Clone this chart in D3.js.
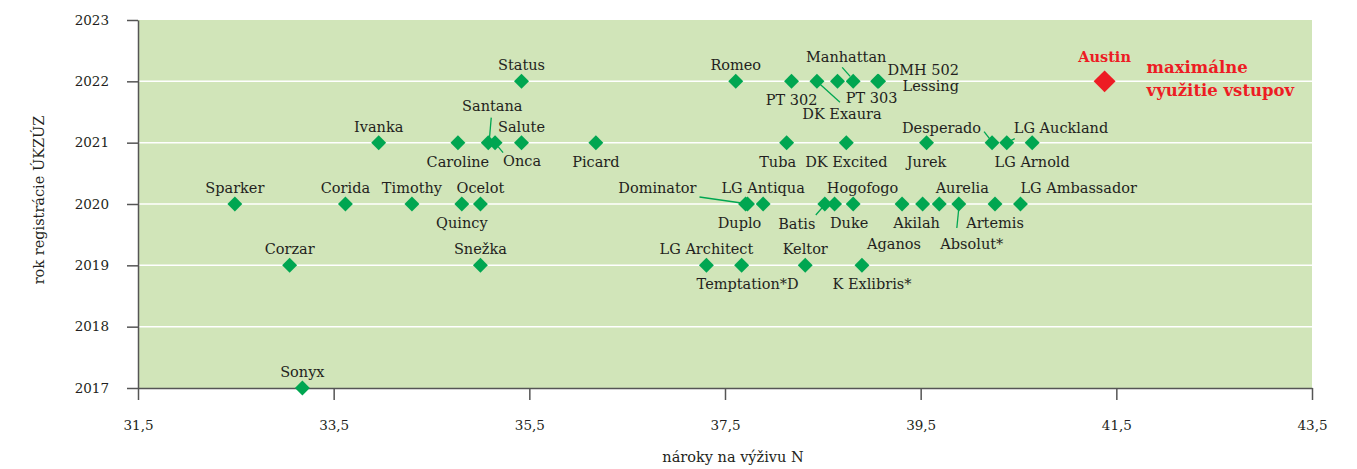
<!DOCTYPE html>
<html>
<head>
<meta charset="utf-8">
<script src="https://cdn.jsdelivr.net/npm/d3@7"></script>
<style>
  body { margin: 0; background: #fff; }
  text { font-family: "DejaVu Serif", serif; fill: #231f20; }
  .lbl { font-size: 14.5px; }
  .tick text { font-size: 13.5px; }
  .red { fill: #ed1c24; font-weight: bold; }
</style>
</head>
<body>
<script>
// Data
const varieties = ["Status", "Romeo", "PT 302", "DK Exaura", "PT 303", "Manhattan", "DMH 502", "Lessing",
  "Ivanka", "Caroline", "Santana", "Onca", "Salute", "Picard", "Tuba", "DK Excited", "Jurek", "Desperado", "LG Auckland", "LG Arnold",
  "Sparker", "Corida", "Timothy", "Quincy", "Ocelot", "Dominator", "Duplo", "LG Antiqua", "Batis", "Hogofogo", "Duke", "Aganos", "Akilah", "Aurelia", "Absolut*", "Artemis", "LG Ambassador",
  "Corzar", "Snežka", "LG Architect", "Temptation*D", "Keltor", "K Exlibris*",
  "Sonyx"]
const nitrogen = [35.42, 37.61, 38.18, 38.44, 38.65, 38.81, 39.06, 39.07,
  33.96, 34.77, 35.08, 35.15, 35.42, 36.18, 38.13, 38.74, 39.56, 40.23, 40.38, 40.64,
  32.49, 33.62, 34.30, 34.81, 35.00, 37.73, 37.71, 37.89, 38.52, 38.62, 38.81, 39.31, 39.52, 39.69, 39.89, 40.26, 40.52,
  33.05, 35.00, 37.31, 37.67, 38.32, 38.90,
  33.18]
const regYear = [2022, 2022, 2022, 2022, 2022, 2022, 2022, 2022,
  2021, 2021, 2021, 2021, 2021, 2021, 2021, 2021, 2021, 2021, 2021, 2021,
  2020, 2020, 2020, 2020, 2020, 2020, 2020, 2020, 2020, 2020, 2020, 2020, 2020, 2020, 2020, 2020, 2020,
  2019, 2019, 2019, 2019, 2019, 2019,
  2017]
const highlightName = "Austin"
const highlightN = 41.38
const highlightYear = 2022
const noteLines = ["maximálne", "využitie vstupov"]
const xTicks = [31.5, 33.5, 35.5, 37.5, 39.5, 41.5, 43.5]
const yTicks = [2017, 2018, 2019, 2020, 2021, 2022, 2023]

// label placement: [anchor, dx, dy, leader line]
const above = ["middle", 0, -11]
const below = ["middle", 0, 24]
const place = {
  "PT 302": below,
  "DK Exaura": ["middle", 25, 38, [2, 2, 23, 21]],
  "PT 303": ["middle", 34, 22],
  "Manhattan": ["middle", -7, -19, [-11, -14, -3, -5]],
  "DMH 502": ["start", 10, -6],
  "Lessing": ["start", 24, 10],
  "Caroline": below,
  "Santana": ["middle", 4, -32, [3, -25, 1, -2]],
  "Onca": ["middle", 27, 23, [3, 4, 8, 10]],
  "Picard": below,
  "Tuba": ["middle", -9, 24],
  "DK Excited": below,
  "Jurek": below,
  "Desperado": ["end", -11, -10, [-8, -11, -1, -2]],
  "LG Auckland": ["start", 7, -10, [8, -4, 2, -1]],
  "LG Arnold": below,
  "Quincy": below,
  "Dominator": ["end", -51, -11, [-48, -7, -6, -1]],
  "Duplo": ["middle", -6, 24],
  "Batis": ["middle", -28, 25, [-9, 11, -2, 3]],
  "Hogofogo": ["middle", 28, -11],
  "Duke": ["middle", -4, 24],
  "Aganos": ["middle", -8, 45],
  "Akilah": ["middle", -6, 24],
  "Aurelia": ["middle", 23, -11],
  "Absolut*": ["middle", 13, 45, [0, 4, -2, 24]],
  "Artemis": below,
  "LG Ambassador": ["start", 0, -11],
  "Temptation*D": ["middle", 6, 24],
  "K Exlibris*": ["middle", 10, 24]
}

const width = 1357, height = 469
const margin = {top: 20, right: 45, bottom: 81, left: 138}
const green = "#00a651", red = "#ed1c24"

const svg = d3.select("body").append("svg")
  .attr("width", width)
  .attr("height", height)

const x = d3.scaleLinear().domain([31.5, 43.5]).range([margin.left, width - margin.right])
const y = d3.scaleLinear().domain([2017, 2023]).range([height - margin.bottom, margin.top])

// plot background
svg.append("rect")
  .attr("x", x(31.5)).attr("y", y(2023))
  .attr("width", x(43.5) - x(31.5)).attr("height", y(2017) - y(2023))
  .attr("fill", "#d1e5b9")

// gridlines
svg.append("g").selectAll("line").data(yTicks.slice(1, -1))
  .enter().append("line")
  .attr("x1", x(31.5)).attr("x2", x(43.5))
  .attr("y1", d => y(d)).attr("y2", d => y(d))
  .attr("stroke", "#fff").attr("stroke-width", 1.5)

// axes
const fmt = d => d3.format(".1f")(d).replace(".", ",")
const xAxisG = svg.append("g")
  .attr("transform", `translate(0,${y(2017)})`)
  .call(d3.axisBottom(x).tickValues(xTicks).tickFormat(fmt).tickSize(12).tickSizeOuter(0).tickPadding(20))
const yAxisG = svg.append("g")
  .attr("transform", `translate(${x(31.5)},0)`)
  .call(d3.axisLeft(y).tickValues(yTicks).tickFormat(d3.format("d")).tickSize(11).tickSizeOuter(0).tickPadding(18))

svg.selectAll(".domain, .tick line").attr("stroke", "#555").attr("stroke-width", 1.5)
svg.selectAll(".tick text").attr("fill", "#231f20")

// axis titles
svg.append("text")
  .attr("class", "lbl")
  .attr("x", (x(31.5) + x(43.5)) / 2 + 8)
  .attr("y", 462)
  .attr("text-anchor", "middle")
  .text("nároky na výživu N")

svg.append("text")
  .attr("class", "lbl")
  .attr("transform", `translate(44,${(y(2017) + y(2023)) / 2 - 4}) rotate(-90)`)
  .attr("text-anchor", "middle")
  .text("rok registrácie ÚKZÚZ")

// points
const data = varieties.map((name, i) => ({name, n: nitrogen[i], year: regYear[i]}))
const diamond = d3.symbol().type(d3.symbolSquare)

const pts = svg.append("g")

// leader lines
pts.selectAll("line").data(data.filter(d => place[d.name] && place[d.name][3]))
  .enter().append("line")
  .attr("x1", d => x(d.n) + place[d.name][3][0])
  .attr("y1", d => y(d.year) + place[d.name][3][1])
  .attr("x2", d => x(d.n) + place[d.name][3][2])
  .attr("y2", d => y(d.year) + place[d.name][3][3])
  .attr("stroke", green).attr("stroke-width", 1.3)

pts.selectAll("path").data(data)
  .enter().append("path")
  .attr("d", diamond.size(112))
  .attr("transform", d => `translate(${x(d.n)},${y(d.year)}) rotate(45)`)
  .attr("fill", green)

pts.selectAll("text").data(data)
  .enter().append("text")
  .attr("class", "lbl")
  .attr("text-anchor", d => (place[d.name] || above)[0])
  .attr("x", d => x(d.n) + (place[d.name] || above)[1])
  .attr("y", d => y(d.year) + (place[d.name] || above)[2])
  .text(d => d.name)

// highlighted variety
svg.append("path")
  .attr("d", d3.symbol().type(d3.symbolSquare).size(240)())
  .attr("transform", `translate(${x(highlightN)},${y(highlightYear)}) rotate(45)`)
  .attr("fill", red)

svg.append("text")
  .attr("class", "red")
  .attr("x", x(highlightN))
  .attr("y", y(highlightYear) - 19)
  .attr("text-anchor", "middle")
  .style("font-size", "14.5px")
  .text(highlightName)

svg.append("text")
  .attr("class", "red")
  .style("font-size", "16.5px")
  .selectAll("tspan").data(noteLines)
  .enter().append("tspan")
  .attr("x", x(highlightN) + 42)
  .attr("y", (d, i) => y(highlightYear) - 8 + i * 23)
  .text(d => d)
</script>
</body>
</html>
